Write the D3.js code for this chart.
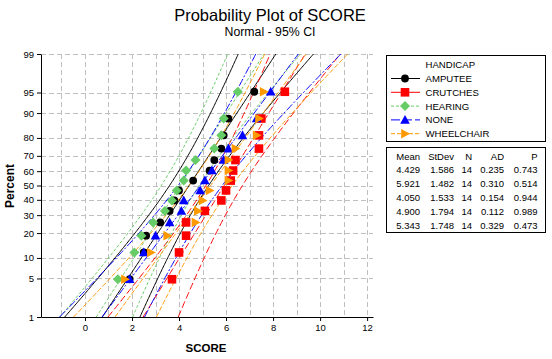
<!DOCTYPE html>
<html><head><meta charset="utf-8">
<script src="https://cdn.jsdelivr.net/npm/d3@7/dist/d3.min.js"></script>
<style>
html,body{margin:0;padding:0;background:#fff;}
svg{display:block;font-family:"Liberation Sans",Arial,sans-serif;}
</style></head>
<body>
<svg id="c" width="552" height="359"></svg>
<script>
// ---------------- data ----------------
const groups = ["AMPUTEE","CRUTCHES","HEARING","NONE","WHEELCHAIR"];
const amputee    = [1.9,2.5,2.6,3.2,3.6,3.8,4.0,4.6,5.3,5.5,5.8,5.9,6.1,7.2];
const crutches   = [3.7,4.0,4.3,4.3,5.1,5.8,6.0,6.2,6.3,6.4,7.4,7.4,7.5,8.5];
const hearing    = [1.4,2.1,2.4,2.9,3.4,3.7,3.9,4.2,4.3,4.7,5.5,5.8,5.9,6.5];
const none       = [1.9,2.5,3.0,3.6,4.1,4.2,4.9,5.1,5.4,5.9,6.1,6.7,7.3,7.9];
const wheelchair = [1.7,2.8,3.5,4.7,4.8,5.0,5.3,6.1,6.1,6.1,6.4,7.3,7.4,7.6];
const means  = [4.429,5.921,4.050,4.900,5.343];
const stdevs = [1.586,1.482,1.533,1.794,1.748];
const ns     = [14,14,14,14,14];
const ads    = [0.235,0.310,0.154,0.112,0.329];
const pvals  = [0.743,0.514,0.944,0.989,0.473];
const xTicks = [0,2,4,6,8,10,12];
const xGrid  = [-1,0,1,2,3,4,5,6,7,8,9,10,11,12];
const pTicks = [1,5,10,20,30,40,50,60,70,80,90,95,99];

const series = [amputee,crutches,hearing,none,wheelchair];
const colors = ["#000000","#FF0000","#66CC66","#0000FF","#FF9900"];
const dashes = [null,"7,3","3,2","8,2,2,2","5,2"];
const legendDashes = [null,null,"3,2","9,3","4,2"];

// inverse normal cdf (Acklam)
function qnorm(p){
  const a=[-39.69683028665376,220.9460984245205,-275.9285104469687,138.3577518672690,-30.66479806614716,2.506628277459239];
  const b=[-54.47609879822406,161.5858368580409,-155.6989798598866,66.80131188771972,-13.28068155288572];
  const c=[-0.007784894002430293,-0.3223964580411365,-2.400758277161838,-2.549732539343734,4.374664141464968,2.938163982698783];
  const d=[0.007784695709041462,0.3224671290700398,2.445134137142996,3.754408661907416];
  const pl=0.02425, ph=1-pl; let q,r;
  if(p<pl){q=Math.sqrt(-2*Math.log(p));return (((((c[0]*q+c[1])*q+c[2])*q+c[3])*q+c[4])*q+c[5])/((((d[0]*q+d[1])*q+d[2])*q+d[3])*q+1);}
  if(p<=ph){q=p-0.5;r=q*q;return (((((a[0]*r+a[1])*r+a[2])*r+a[3])*r+a[4])*r+a[5])*q/(((((b[0]*r+b[1])*r+b[2])*r+b[3])*r+b[4])*r+1);}
  q=Math.sqrt(-2*Math.log(1-p));return -(((((c[0]*q+c[1])*q+c[2])*q+c[3])*q+c[4])*q+c[5])/((((d[0]*q+d[1])*q+d[2])*q+d[3])*q+1);
}

const svg = d3.select("#c");
const L=41, R=373, T=54, B=317;
const x = d3.scaleLinear().domain([-1.87,12.25]).range([L,R]);
const yz = d3.scaleLinear().domain([qnorm(0.01),qnorm(0.99)]).range([B,T]);
const yp = p => yz(qnorm(p/100));

// titles
svg.append("text").attr("x",270).attr("y",20.5).attr("text-anchor","middle")
  .style("font-size","16.5px").text("Probability Plot of SCORE");
svg.append("text").attr("x",270).attr("y",35.5).attr("text-anchor","middle")
  .style("font-size","12.3px").text("Normal - 95% CI");

// grid
const grid = svg.append("g").attr("stroke","#C0C0C0").attr("stroke-dasharray","5,3").attr("stroke-width",1);
grid.selectAll("line.v").data(xGrid).join("line")
  .attr("x1",d=>Math.round(x(d))+0.5).attr("x2",d=>Math.round(x(d))+0.5).attr("y1",T).attr("y2",B);
grid.selectAll("line.h").data(pTicks.filter(p=>p>1)).join("line")
  .attr("y1",d=>Math.round(yp(d))+0.5).attr("y2",d=>Math.round(yp(d))+0.5).attr("x1",L).attr("x2",R);

// clip
svg.append("clipPath").attr("id","pc").append("rect").attr("x",L).attr("y",T).attr("width",R-L).attr("height",B-T);
const plot = svg.append("g").attr("clip-path","url(#pc)");

// fitted lines and CI bands
const zs = d3.range(0,201).map(i=>qnorm(0.01)+(qnorm(0.99)-qnorm(0.01))*i/200);
series.forEach((s,gi)=>{
  const m=means[gi], sd=stdevs[gi], n=ns[gi];
  const fit = zs.map(z=>[x(m+z*sd),yz(z)]);
  const lo = zs.map(z=>[x(m+z*sd-1.959964*sd*Math.sqrt(1/n+z*z/(2*n))),yz(z)]);
  const hi = zs.map(z=>[x(m+z*sd+1.959964*sd*Math.sqrt(1/n+z*z/(2*n))),yz(z)]);
  [fit,lo,hi].forEach(pts=>{
    plot.append("path").attr("d",d3.line()(pts)).attr("fill","none")
      .attr("stroke",colors[gi]).attr("stroke-width",1)
      .attr("stroke-dasharray",dashes[gi]);
  });
});

// markers
const shapes = [
  "M3.9,0A3.9,3.9,0,1,1,-3.9,0A3.9,3.9,0,1,1,3.9,0Z",
  "M-4.3,-4.3H4.3V4.3H-4.3Z",
  "M0,-5L5,0L0,5L-5,0Z",
  "M0,-5L4.8,3.8L-4.8,3.8Z",
  "M5,0L-3.8,4.8L-3.8,-4.8Z"
];
series.forEach((s,gi)=>{
  const n=s.length;
  plot.append("g").selectAll("path").data(s).join("path")
    .attr("d",shapes[gi]).attr("fill",colors[gi])
    .attr("transform",(d,i)=>`translate(${x(d)},${yp(100*(i+1-0.3)/(n+0.4))})`);
});

// axes
const xa = svg.append("g").attr("transform",`translate(0,${B})`)
  .call(d3.axisBottom(x).tickValues(xTicks).tickSize(4).tickSizeOuter(0).tickFormat(d3.format("d")));
const ya = svg.append("g").attr("transform",`translate(${L},0)`)
  .call(d3.axisLeft(yz).tickValues(pTicks.map(p=>qnorm(p/100))).tickSize(4).tickSizeOuter(0)
    .tickFormat((d,i)=>pTicks[i]));
[xa,ya].forEach(a=>{
  a.select(".domain").attr("stroke","#000");
  a.selectAll(".tick line").attr("stroke","#000");
  a.selectAll("text").attr("fill","#000").style("font-family","Liberation Sans,Arial,sans-serif").style("font-size","9.5px");
});
ya.selectAll("text").attr("x",-7);
xa.selectAll("text").attr("y",7);

svg.append("text").attr("x",206).attr("y",352).attr("text-anchor","middle")
  .style("font-size","11.5px").style("font-weight","bold").text("SCORE");
svg.append("text").attr("transform","translate(13.5,186) rotate(-90)").attr("text-anchor","middle")
  .style("font-size","12px").style("font-weight","bold").text("Percent");

// legend
const lg = svg.append("g");
lg.append("rect").attr("x",386.5).attr("y",55.5).attr("width",159).attr("height",86)
  .attr("fill","#fff").attr("stroke","#000");
lg.append("text").attr("x",425.5).attr("y",68).style("font-size","9.6px").text("HANDICAP");
groups.forEach((g,gi)=>{
  const cy = 78.5+gi*13.8;
  lg.append("line").attr("x1",391).attr("x2",420).attr("y1",cy).attr("y2",cy)
    .attr("stroke",colors[gi]).attr("stroke-dasharray",legendDashes[gi]);
  lg.append("path").attr("d",shapes[gi]).attr("fill",colors[gi]).attr("transform",`translate(405,${cy})`);
  lg.append("text").attr("x",425.5).attr("y",cy+3.5).style("font-size","9.6px").text(g);
});

// stats table
const tb = svg.append("g");
tb.append("rect").attr("x",386.5).attr("y",147.5).attr("width",159).attr("height",85)
  .attr("fill","#fff").attr("stroke","#000");
const colX = [420,454,472,504,537.5];
const heads = ["Mean","StDev","N","AD","P"];
heads.forEach((h,i)=>tb.append("text").attr("x",colX[i]).attr("y",159.5).attr("text-anchor","end")
  .style("font-size","9.5px").text(h));
groups.forEach((g,gi)=>{
  const vals=[means[gi].toFixed(3),stdevs[gi].toFixed(3),ns[gi],ads[gi].toFixed(3),pvals[gi].toFixed(3)];
  vals.forEach((v,i)=>tb.append("text").attr("x",colX[i]).attr("y",173+gi*14).attr("text-anchor","end")
    .style("font-size","9.5px").text(v));
});
</script>
</body></html>
